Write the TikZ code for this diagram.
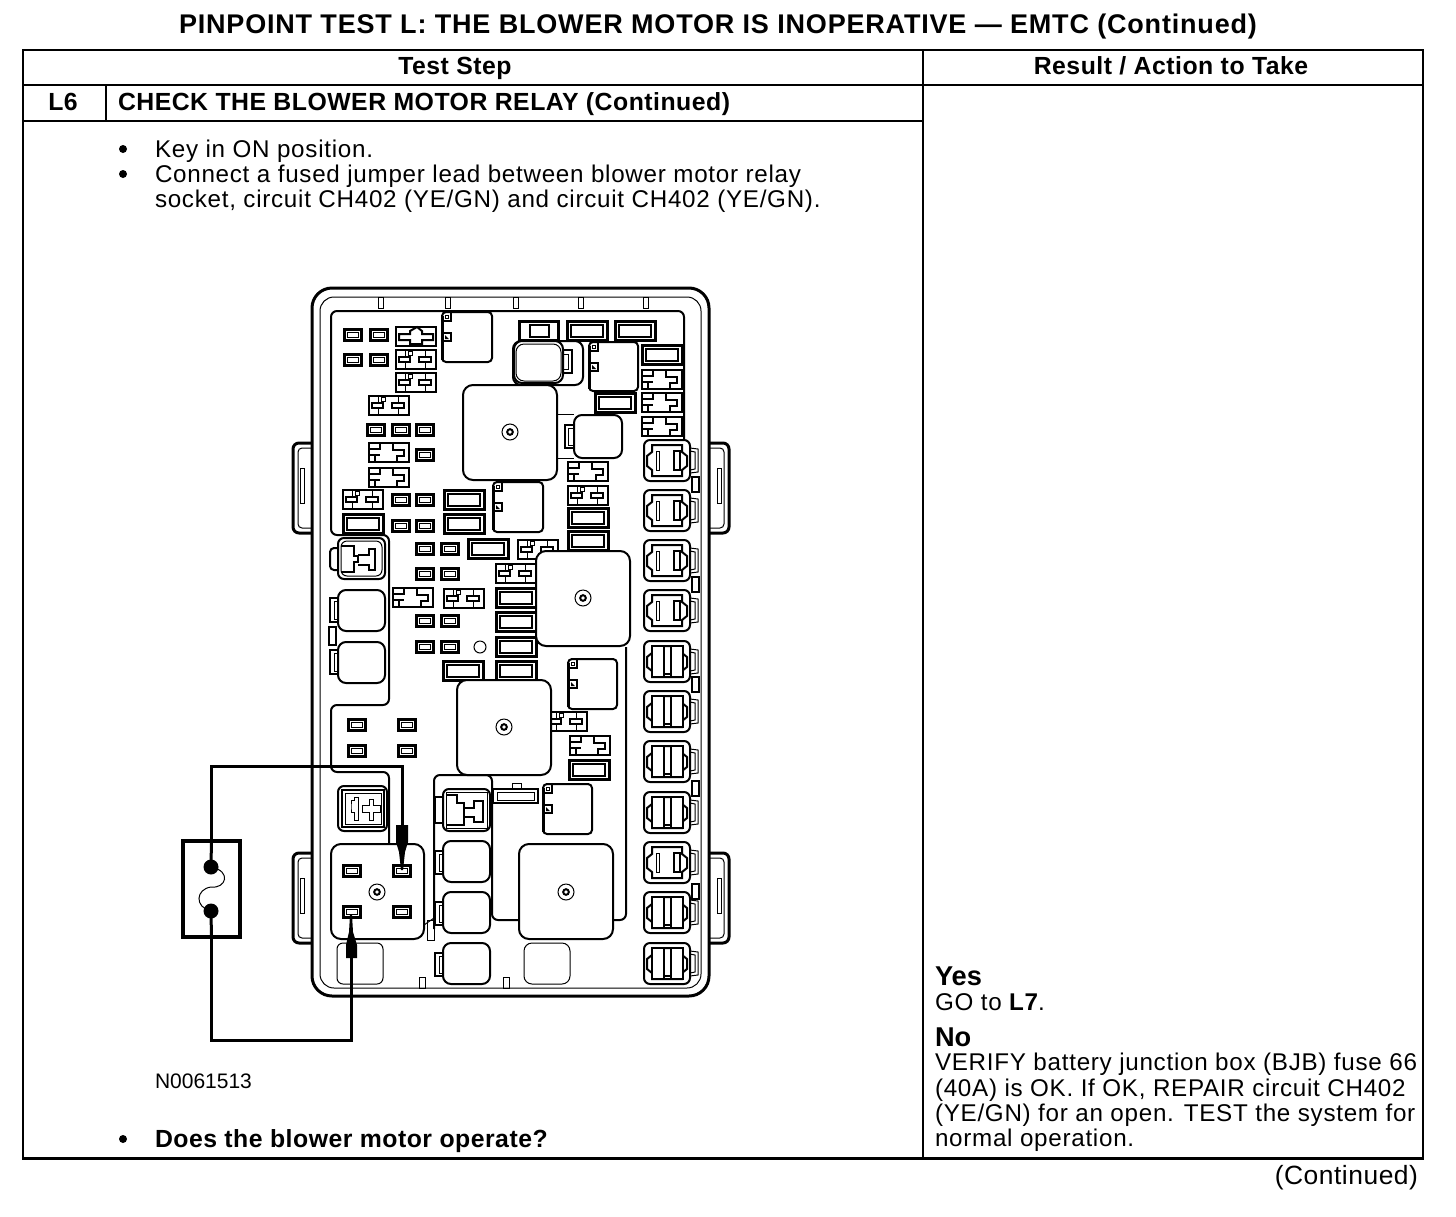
\documentclass[tikz,border=0pt]{standalone}
\usepackage{fontspec}
\setmainfont{Liberation Sans}
\usetikzlibrary{calc}
\tikzset{
  px1/.style={line width=0.5pt},
  px2/.style={line width=1pt},
  px3/.style={line width=1.5pt},
  px4/.style={line width=2pt},
  txt/.style={inner sep=0pt,outer sep=0pt,anchor=base west},
  body/.style={txt,font=\fontsize{12.1}{14}\selectfont\addfontfeature{LetterSpace=3}},
  bodyb/.style={txt,font=\fontsize{12.4}{14}\selectfont\bfseries\addfontfeature{LetterSpace=2}},
  blockbox/.style={draw,px2,fill=white,rounded corners=4pt,line join=round},
}
\newcommand\minifuse[2]{%
  \draw[px3,fill=white] (#1-8.5,#2-5.5) rectangle (#1+8.5,#2+5.5);
  \draw[px1] (#1-5.5,#2-2.5) rectangle (#1+5.5,#2+2.5);}
\newcommand\longfuse[3]{% cx cy halfwidth
  \draw[px3,fill=white] (#1-#3,#2-9.5) rectangle (#1+#3,#2+9.5);
  \draw[px2] (#1-#3+4,#2-6) rectangle (#1+#3-4,#2+6);}
\newcommand\relayT[2]{%
  \draw[px2,fill=white] (#1-20,#2-9.5) rectangle (#1+20,#2+9.5);
  \draw[px1] (#1-11,#2-9.5) -- (#1-11,#2+9.5) (#1+9,#2-9.5) -- (#1+9,#2+9.5);
  \draw[px2,fill=white] (#1-17,#2-2.5) rectangle (#1-6,#2+2.5);
  \draw[px2,fill=white] (#1+3,#2-2.5) rectangle (#1+15,#2+2.5);
  \draw[px1,fill=white] (#1-8,#2-8) rectangle (#1-4,#2-4);}
\newcommand\relayL[2]{%
  \draw[px2,fill=white] (#1-20,#2-9.5) rectangle (#1+20,#2+9.5);
  \draw[px2] (#1-20,#2-3) -- (#1-9,#2-3) -- (#1-9,#2-9.5)
             (#1-20,#2+3) -- (#1-9,#2+3) (#1-14,#2+3) -- (#1-14,#2+9.5);
  \draw[px2] (#1+4,#2-9.5) -- (#1+4,#2-2) -- (#1+15,#2-2) -- (#1+15,#2+4) -- (#1+8,#2+4) -- (#1+8,#2+9.5);}
\newcommand\smallrelay[4]{%
  \draw[px2,fill=white,rounded corners=2pt] (#1,#2) rectangle (#3,#4);
  \draw[px3] (#1,#2+4) -- (#1,#4-2);
  \draw[px2] (#1,#2+9) -- (#1+9,#2+9) -- (#1+9,#2);
  \draw[px1] (#1+3,#2+3) rectangle (#1+6,#2+6);
  \draw[px2,fill=white] (#1+1,#2+21) rectangle (#1+9,#2+29);
  \fill (#1+3,#2+23) -- (#1+7,#2+27) -- (#1+3,#2+27) -- cycle;}
\newcommand\bolt[2]{%
  \draw[px1,fill=white] (#1,#2) circle (8);
  \draw[px2] (#1,#2) circle (2.8);}
\newcommand\bigfuse[2]{%
  \draw[px1] (690,#1+8) -- (698,#1+9) -- (698,#1+32) -- (690,#1+33);
  \draw[px1] (690,#1+11) -- (695,#1+12) -- (695,#1+29) -- (690,#1+30);
  \draw[px2,fill=white,rounded corners=3pt] (644,#1) rectangle (690,#1+41);
  \draw[px2] (652,#1+5) -- (682,#1+5) -- (682,#1+12) -- (687,#1+16) -- (687,#1+26) -- (682,#1+30) -- (682,#1+36)
     -- (652,#1+36) -- (652,#1+30) -- (647,#1+26) -- (647,#1+16) -- (652,#1+12) -- cycle;
  \ifnum#2=0
    \draw[px1] (656,#1+11) rectangle (659,#1+30);
    \draw[px2] (674,#1+11) rectangle (680,#1+30);
  \else
    \draw[px2,fill=white] (652,#1+5) rectangle (664,#1+36);
    \draw[px2,fill=white] (671,#1+5) rectangle (683,#1+36);
    \draw[px2] (664,#1+33) -- (671,#1+33);
  \fi}
\begin{document}
\begin{tikzpicture}[x=0.5pt,y=-0.5pt,line cap=butt]
\useasboundingbox (0,0) rectangle (1456,1216);
% ---- table
\draw[px1] (23,49) -- (1423,49);
\draw[px1] (23,50) -- (1423,50);
\draw[px2] (23,49) -- (23,1158) (1423,49) -- (1423,1158) (923,49) -- (923,1158);
\draw[px2] (23,85) -- (1423,85) (23,121) -- (923,121) (106,85) -- (106,121);
\draw[px3] (22,1158) -- (1424,1158);
% ---- texts
\node[txt,font=\fontsize{13.5}{15}\selectfont\bfseries\addfontfeature{LetterSpace=3}] (title) at (179,33) {PINPOINT TEST L: THE BLOWER MOTOR IS INOPERATIVE — EMTC (Continued)};
\node[bodyb,anchor=base] (hstep) at (455,74.5) {Test Step};
\node[bodyb,anchor=base] (hres) at (1171,74.5) {Result / Action to Take};
\node[bodyb,anchor=base] (lsix) at (63,110.5) {L6};
\node[bodyb] (check) at (118,110.5) {CHECK THE BLOWER MOTOR RELAY (Continued)};
\node[body] (b1) at (155,157) {Key in ON position.};
\node[body] (b2) at (155,182) {Connect a fused jumper lead between blower motor relay};
\node[body] (b3) at (155,207) {socket, circuit CH402 (YE/GN) and circuit CH402 (YE/GN).};
\fill (123,149) circle (4) (123,174) circle (4) (123,1139) circle (4);
\node[txt,font=\fontsize{10.5}{12}\selectfont] (nref) at (155,1088) {N0061513};
\node[bodyb] (does) at (155,1147) {Does the blower motor operate?};
\node[txt,font=\fontsize{13.6}{15}\selectfont\bfseries] (yes) at (935,985) {Yes};
\node[body] (goto) at (935,1010) {GO to {\bfseries L7}.};
\node[txt,font=\fontsize{13.6}{15}\selectfont\bfseries] (no) at (935,1046) {No};
\node[body] (n1) at (935,1070) {VERIFY battery junction box (BJB) fuse 66};
\node[body] (n2) at (935,1096) {(40A) is OK. If OK, REPAIR circuit CH402};
\node[body] (n3) at (935,1121) {(YE/GN) for an open. TEST the system for};
\node[body] (n4) at (935,1146) {normal operation.};
\node[txt,anchor=base east,font=\fontsize{13.2}{15}\selectfont\addfontfeature{LetterSpace=2}] (cont) at (1418,1184) {(Continued)};
% ---- side clips
\foreach \yy in {443,853}{
  \draw[px3,rounded corners=3pt] (312,\yy) -- (293,\yy) -- (293,\yy+90) -- (312,\yy+90);
  \draw[px1,rounded corners=2pt] (312,\yy+5) -- (298,\yy+5) -- (298,\yy+85) -- (312,\yy+85);
  \draw[px1] (300,\yy+25) rectangle (304,\yy+60);
  \draw[px3,rounded corners=3pt] (709,\yy) -- (729,\yy) -- (729,\yy+90) -- (709,\yy+90);
  \draw[px1,rounded corners=2pt] (709,\yy+5) -- (724,\yy+5) -- (724,\yy+85) -- (709,\yy+85);
  \draw[px1] (717,\yy+25) rectangle (721,\yy+60);
}
% ---- housing
\draw[px3,rounded corners=10pt,fill=white] (312,288) rectangle (709,996);
\draw[px1,rounded corners=7pt] (320,297) rectangle (701,988);
\foreach \xx in {378,445,513,578,643}{\draw[px1] (\xx,297) rectangle (\xx+5,308);}
\foreach \xx in {419,503}{\draw[px1] (\xx,977) rectangle (\xx+6,988);}
% ---- panel outline
\draw[px2,rounded corners=3pt] (684,440) -- (684,311) -- (331,311) -- (331,535) -- (389,535) -- (389,705) -- (331,705) -- (331,772) -- (389,772) -- (389,845);
\draw[px2,rounded corners=3pt] (519,920) -- (492,920) -- (492,775) -- (434,775) -- (434,929);
\draw[px2,rounded corners=3pt] (626,647) -- (626,920) -- (610,920);
\draw[px1] (427,920) rectangle (434,940);
\draw[px1] (424,925) -- (434,918);
% ---- mini fuses
\foreach \a/\b in {353/335,379/335,353/360,379/360,376/430,401/430,425/430,425/455,401/500,425/500,401/526,425/526,
  425/549,450/549,425/574,450/574,425/621,450/621,425/647,450/647,357/725,407/725,357/751,407/751}{\minifuse{\a}{\b}}
% ---- relay glyphs
\draw[px2,fill=white] (396,327) rectangle (436,346);
\draw[px2,fill=white] (399,334) -- (410,334) -- (410,331) -- (417,327) -- (422,331) -- (422,334) -- (433,334) -- (433,340) -- (422,340) -- (422,344) -- (410,344) -- (410,340) -- (399,340) -- cycle;
\foreach \a/\b in {416/359,416/382,389/405,363/499,588/495,538/549,516/573,464/598,567/721}{\relayT{\a}{\b}}
\foreach \a/\b in {389/452,389/477,662/379,662/402,662/426,588/471,413/597,590/745}{\relayL{\a}{\b}}
% ---- long fuses
\foreach \a/\b in {464/500,464/524,363/524,662/355,615/403,588/518,588/541,488/549,516/598,516/622,516/647,516/671,463/671,589/770}{\longfuse{\a}{\b}{20}}
\longfuse{587}{331}{20}\longfuse{635}{331}{20}
\draw[px3,fill=white] (519,321) rectangle (558,340);
\draw[px2] (530,325) rectangle (549,337);
% ---- top relays and boxes
\smallrelay{442}{312}{492}{362}
\smallrelay{589}{342}{638}{391}
\smallrelay{493}{482}{543}{532}
\smallrelay{568}{659}{617}{709}
\smallrelay{543}{784}{592}{834}
% connector box top
\draw[px2,rounded corners=4pt] (513,341) rectangle (583,385);
\draw[px2] (563,350) -- (572,350) -- (572,373) -- (563,373);
\draw[px1] (563,354) -- (568,354) -- (568,369) -- (563,369);
\draw[blockbox] (514,341) rectangle (563,383);
\draw[px1,rounded corners=4pt] (516,344) rectangle (561,381);
% lines + right box
\draw[px1] (557,414) -- (574,414) (555,458) -- (574,458);
\draw[px2] (574,425) -- (565,425) -- (565,448) -- (574,448);
\draw[px1] (574,428) -- (568,428) -- (568,445) -- (574,445);
\draw[blockbox] (574,415) rectangle (622,458);
% big blocks
\draw[blockbox,rounded corners=5pt] (463,385) rectangle (557,480);
\bolt{510}{432}
\draw[blockbox,rounded corners=5pt] (536,551) rectangle (630,646);
\bolt{583}{598}
\draw[blockbox,rounded corners=5pt] (457,680) rectangle (551,775);
\bolt{504}{727}
\draw[blockbox,rounded corners=5pt] (519,844) rectangle (613,939);
\bolt{566}{892}
\draw[blockbox,rounded corners=5pt] (331,844) rectangle (424,939);
\bolt{377}{892}
\draw[px1,fill=white] (480,647) circle (6);
% left column
\draw[px2,rounded corners=2pt] (338,548) -- (330,548) -- (330,570) -- (338,570);
\draw[px2,rounded corners=3pt] (338,538) rectangle (385,579);
\draw[px1,rounded corners=3pt] (341,541) rectangle (382,576);
\draw[px2] (341,546) -- (354,546) -- (354,556) -- (358,556) -- (358,562) -- (354,562) -- (354,572) -- (341,572);
\draw[px2] (358,555) -- (369,555) -- (369,549) -- (375,549) -- (375,570) -- (369,570) -- (369,565) -- (358,565);
\foreach \a/\b in {590/631,642/683}{
  \draw[px2] (338,\a+8) -- (330,\a+8) -- (330,\a+32) -- (338,\a+32);
  \draw[px1] (338,\a+11) -- (334,\a+11) -- (334,\a+29) -- (338,\a+29);
  \draw[blockbox] (338,\a) rectangle (385,\b);}
\draw[px2] (329,627) rectangle (336,645);
% lower left + middle connector group
\draw[px2,rounded corners=3pt] (338,786) rectangle (387,831);
\draw[px2] (342,790) rectangle (384,827);
\draw[px1] (345,793) rectangle (381,824);
\draw[px1] (351,807) -- (351,800) -- (354,800) -- (354,797) -- (358,797) -- (358,820) -- (354,820) -- (354,812) -- (351,812) -- cycle;
\draw[px1] (362,805) -- (369,805) -- (369,799) -- (373,799) -- (373,805) -- (380,805) -- (380,812) -- (373,812) -- (373,820) -- (369,820) -- (369,812) -- (362,812) -- cycle;
\draw[px2] (443,797) -- (435,797) -- (435,823) -- (443,823);
\draw[px2,rounded corners=3pt] (443,789) rectangle (490,831);
\draw[px1] (446,792) rectangle (487,828);
\draw[px2] (446,795) -- (457,795) -- (457,803) -- (464,803) -- (464,826) (446,825) -- (464,825);
\draw[px2] (464,808) -- (474,808) -- (474,801) -- (483,801) -- (483,822) -- (474,822) -- (474,817) -- (464,817);
\foreach \a/\b in {841/882,892/933,943/984}{
  \draw[px2] (443,\a+10) -- (435,\a+10) -- (435,\a+33) -- (443,\a+33);
  \draw[px1] (443,\a+13) -- (439,\a+13) -- (439,\a+30) -- (443,\a+30);
  \draw[blockbox] (443,\a) rectangle (490,\b);}
\draw[px1] (512,783) rectangle (521,789);
\draw[px2,fill=white] (493,789) rectangle (538,803);
\draw[px1] (497,792) rectangle (534,800);
\draw[px1,rounded corners=3pt] (337,984) rectangle (383,943);
\draw[blockbox,px1] (524,943) rectangle (570,984);
% relay socket fuses
\minifuse{352}{871}\minifuse{402}{912}
\minifuse{402}{871}\minifuse{352}{912}
% large fuse column
\foreach \yy/\tt in {440/0,490/0,540/0,590/0,641/1,691/1,741/1,792/1,842/0,892/1,943/1}{\bigfuse{\yy}{\tt}}
\foreach \yy in {477,577,677,781,884}{\draw[px2,fill=white] (692,\yy) rectangle (699,\yy+15);}
% ---- jumper
\node[draw,px4,fill=white,minimum width=28.5pt,minimum height=48pt,inner sep=0pt] (fusebox) at (211.5,889) {};
\coordinate (tipA) at (402,825);
\coordinate (tipB) at (351,958);
\draw[px3] (fusebox.north) |- (402,766) -- (tipA);
\draw[px3] (fusebox.south) |- (351,1040) -- (tipB);
\fill (396,825) -- (408,825) -- (408,842) -- (405,852) -- (403,870) -- (401,870) -- (399,852) -- (396,842) -- cycle;
\fill (346,958) -- (357,958) -- (357,945) -- (353,932) -- (352,915) -- (350,915) -- (349,932) -- (346,945) -- cycle;
\coordinate (dotA) at (211,867);
\coordinate (dotB) at (211,911);
\draw[px1] (dotA) .. controls (232,871) and (226,889) .. (211,887) .. controls (196,889) and (194,907) .. (dotB);
\fill (dotA) circle (7.5) (dotB) circle (7.5);
\draw[px3] (fusebox.north) -- (dotA) (dotB) -- (fusebox.south);
\end{tikzpicture}
\end{document}
